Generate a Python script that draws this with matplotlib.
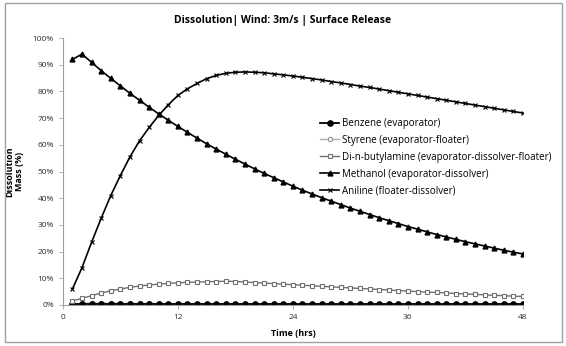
import matplotlib
matplotlib.use("Agg")
import matplotlib.pyplot as plt
from matplotlib.patches import Rectangle
from matplotlib.ticker import PercentFormatter
import numpy as np

plt.rcParams['font.family'] = ['Open Sans', 'DejaVu Sans']

# time in hours (one reading per hour)
hours = list(range(1, 49))

benzene = [0.2] * 48

styrene = [0.4, 0.6, 0.7, 0.7, 0.7, 0.7, 0.6, 0.6, 0.6, 0.6, 0.5, 0.5,
           0.5, 0.5, 0.5, 0.5, 0.4, 0.4, 0.4, 0.4, 0.4, 0.4, 0.4, 0.4,
           0.3, 0.3, 0.3, 0.3, 0.3, 0.3, 0.3, 0.3, 0.3, 0.3, 0.3, 0.3,
           0.3, 0.3, 0.3, 0.3, 0.3, 0.3, 0.2, 0.2, 0.2, 0.2, 0.2, 0.2]

dibutylamine = [1.5, 2.5, 3.5, 4.5, 5.3, 6.0, 6.6, 7.1, 7.5, 7.8, 8.1, 8.3,
                8.5, 8.6, 8.7, 8.8, 8.9, 8.8, 8.6, 8.4, 8.2, 8.0, 7.8, 7.6,
                7.4, 7.2, 7.0, 6.8, 6.6, 6.4, 6.2, 6.0, 5.8, 5.6, 5.4, 5.2,
                5.0, 4.8, 4.7, 4.5, 4.3, 4.1, 4.0, 3.8, 3.6, 3.5, 3.3, 3.2]

methanol = [92.0, 94.0, 90.9, 87.8, 84.9, 82.1, 79.3, 76.7, 74.1, 71.6, 69.2, 66.9,
            64.7, 62.5, 60.4, 58.4, 56.5, 54.6, 52.8, 51.0, 49.3, 47.7, 46.1, 44.5,
            43.0, 41.6, 40.2, 38.9, 37.6, 36.3, 35.1, 33.9, 32.7, 31.6, 30.5, 29.4,
            28.4, 27.4, 26.4, 25.5, 24.6, 23.7, 22.9, 22.1, 21.3, 20.5, 19.8, 19.1]

aniline = [6.0, 14.0, 23.5, 32.5, 41.0, 48.5, 55.5, 61.5, 66.5, 71.0, 75.0, 78.5,
           81.0, 83.0, 84.8, 86.0, 86.8, 87.2, 87.3, 87.2, 87.0, 86.6, 86.2, 85.8,
           85.3, 84.8, 84.3, 83.7, 83.2, 82.6, 82.0, 81.5, 80.9, 80.3, 79.7, 79.1,
           78.5, 77.9, 77.3, 76.7, 76.1, 75.5, 74.9, 74.3, 73.7, 73.1, 72.5, 71.9]

x_ticks = [0, 12, 24, 36, 48]

fig = plt.figure(figsize=(5.66, 3.46), dpi=100)
ax = fig.add_axes([0.111, 0.1185, 0.813, 0.7715])

ax.plot(hours, styrene, color='#b0b0b0', lw=1.0, marker='o', ms=3,
        mfc='white', mec='#909090', mew=0.8, label='Styrene (evaporator-floater)')
ax.plot(hours, benzene, color='black', lw=1.3, marker='o', ms=3.8,
        mfc='black', mec='black', label='Benzene (evaporator)')
ax.plot(hours, dibutylamine, color='#707070', lw=1.0, marker='s', ms=3.2,
        mfc='white', mec='#707070', mew=0.8,
        label='Di-n-butylamine (evaporator-dissolver-floater)')
ax.plot(hours, methanol, color='black', lw=1.2, marker='^', ms=3.5,
        mfc='black', mec='black', label='Methanol (evaporator-dissolver)')
ax.plot(hours, aniline, color='black', lw=1.2, marker='x', ms=3.5, mew=0.8,
        label='Aniline (floater-dissolver)')

ax.set_xlim(0, 48)
ax.set_ylim(0, 100)
ax.set_xticks(x_ticks)
ax.set_yticks(np.arange(0, 101, 10))
ax.yaxis.set_major_formatter(PercentFormatter(decimals=0))
ax.tick_params(labelsize=6, length=3, width=0.6, color='#a0a0a0', labelcolor='#303030')

for side in ['top', 'right']:
    ax.spines[side].set_visible(False)
for side in ['left', 'bottom']:
    ax.spines[side].set_color('#a0a0a0')
    ax.spines[side].set_linewidth(0.8)

ax.set_xlabel('Time (hrs)', fontsize=6.5, fontweight='bold', labelpad=6)
ax.set_ylabel('Dissolution\nMass (%)', fontsize=6.5, fontweight='bold', labelpad=6)
fig.text(0.5, 0.94, 'Dissolution| Wind: 3m/s | Surface Release',
         ha='center', va='center', fontsize=7.5, fontweight='bold')

# legend order as in the reference
handles, labels = ax.get_legend_handles_labels()
order = [1, 0, 2, 3, 4]
ax.legend([handles[i] for i in order], [labels[i] for i in order],
          loc='upper left', bbox_to_anchor=(0.55, 0.715), frameon=False,
          fontsize=7, handlelength=2.0, handletextpad=0.3, labelspacing=0.6,
          borderaxespad=0)

fig.patches.append(Rectangle((0.008, 0.012), 0.985, 0.978, transform=fig.transFigure,
                             fill=False, edgecolor='#a0a0a0', lw=1.0))

fig.savefig('out.png', dpi=100)
